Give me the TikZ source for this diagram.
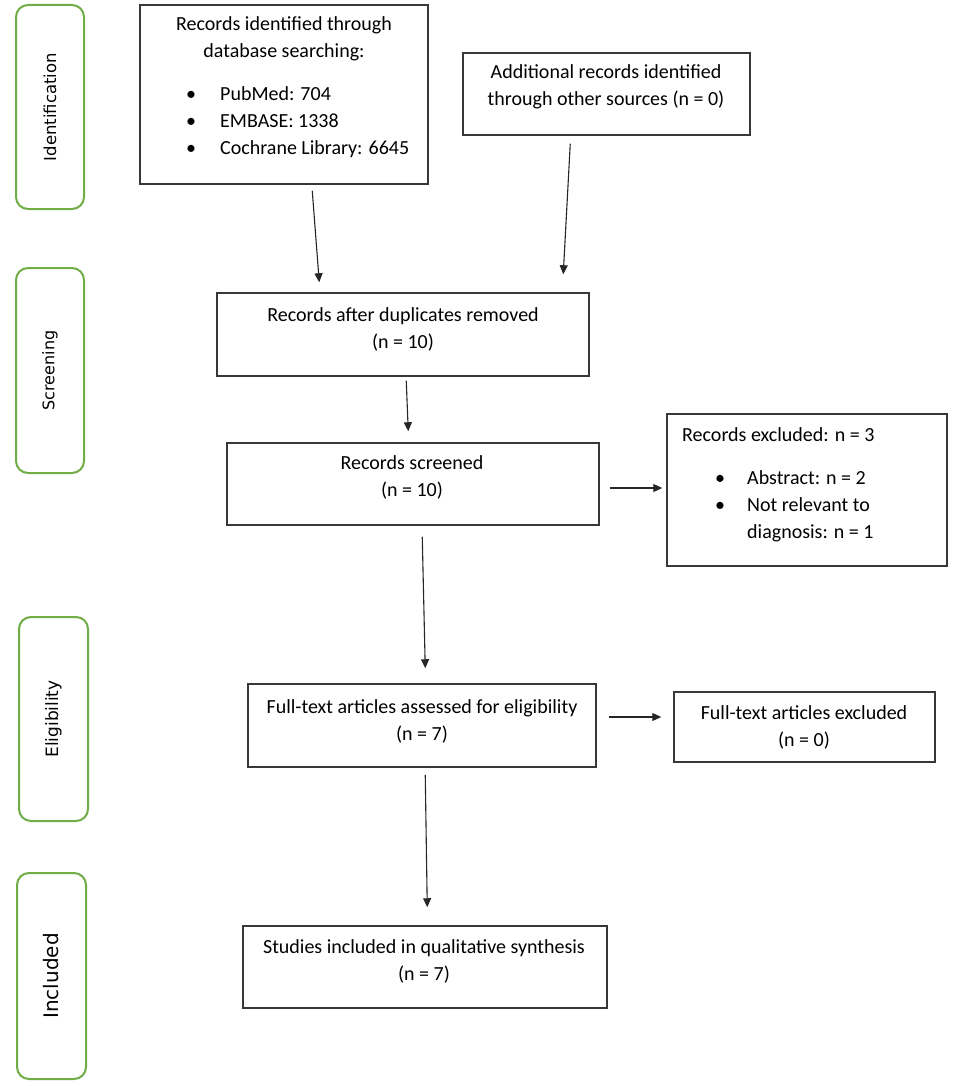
\documentclass[tikz,border=0pt]{standalone}
\usepackage{fontspec}
\setmainfont{Carlito}
\newfontfamily\sidefont{DejaVu Sans}
\usetikzlibrary{arrows.meta,calc}
\definecolor{pgreen}{HTML}{70AD47}
\begin{document}
\begin{tikzpicture}[x=1pt,y=-1pt,
  box/.style={draw=black!78, line width=1.5pt, inner sep=0pt},
  side/.style={draw=pgreen, line width=2pt, rounded corners=12pt, inner sep=0pt, text=black},
  lbl/.style={font=\fontsize{20}{27}\selectfont, align=center, inner sep=0pt},
  arr/.style={-{Triangle[length=9pt,width=8pt]}, line width=1.1pt, draw=black!85}]
\useasboundingbox[fill=white] (0,0) rectangle (957,1086);

% phase boxes
\node[side, minimum width=68, minimum height=204, font=\sidefont\fontsize{16.5}{20}\selectfont] (s1) at (50,107) {\rotatebox{90}{Identification}};
\node[side, minimum width=68, minimum height=205, font=\sidefont\fontsize{16}{20}\selectfont] (s2) at (50,370.5) {\rotatebox{90}{Screening}};
\node[side, minimum width=69, minimum height=204, font=\sidefont\fontsize{17}{20}\selectfont] (s3) at (53.5,719) {\rotatebox{90}{Eligibility}};
\node[side, minimum width=69, minimum height=206, font=\sidefont\fontsize{20}{24}\selectfont] (s4) at (51.5,976) {\rotatebox{90}{Included}};

% boxes
\node[box, minimum width=288, minimum height=179] (b1) at (284,94.5) {};
\node[box, minimum width=287, minimum height=82] (b2) at (606.5,94) {};
\node[box, minimum width=372, minimum height=83] (b3) at (403,334.5) {};
\node[box, minimum width=372, minimum height=82] (b4) at (413,484) {};
\node[box, minimum width=280, minimum height=152] (b5) at (807,490) {};
\node[box, minimum width=348, minimum height=83] (b6) at (422,725.5) {};
\node[box, minimum width=261, minimum height=70] (b7) at (804.5,727) {};
\node[box, minimum width=364, minimum height=82] (b8) at (425,967) {};

% texts (base anchor = baseline of the last line)
\node[lbl, anchor=base] (t1) at (284,58) {Records identified through\\database searching:};
\node[lbl, anchor=base west] (l1) at (191,101) {\begin{tabular}[t]{@{}p{29pt}@{}l@{}}
\makebox[0pt]{\textbullet} & PubMed: 704\\
\makebox[0pt]{\textbullet} & EMBASE: 1338\\
\makebox[0pt]{\textbullet} & Cochrane Library: 6645
\end{tabular}};
\node[lbl, anchor=base] (t2) at (606,106) {Additional records identified\\through other sources (n = 0)};
\node[lbl, anchor=base] (t3) at (403,348) {Records after duplicates removed\\(n = 10)};
\node[lbl, anchor=base] (t4) at (412,496) {Records screened\\(n = 10)};
\node[lbl, anchor=base west] (t5) at (682,441) {Records excluded: n = 3};
\node[lbl, anchor=base west] (l5) at (720,484) {\begin{tabular}[t]{@{}p{27pt}@{}l@{}}
\makebox[0pt]{\textbullet} & Abstract: n = 2\\
\makebox[0pt]{\textbullet} & Not relevant to\\
 & diagnosis: n = 1
\end{tabular}};
\node[lbl, anchor=base] (t6) at (422,740) {Full-text articles assessed for eligibility\\(n = 7)};
\node[lbl, anchor=base] (t7) at (804,746) {Full-text articles excluded\\(n = 0)};
\node[lbl, anchor=base] (t8) at (424,980) {Studies included in qualitative synthesis\\(n = 7)};

% arrows
\draw[arr] ([shift={(173,6)}]b1.south west) -- ([shift={(103,-10)}]b3.north west);
\draw[arr] ([shift={(108,8)}]b2.south west) -- ([shift={(347,-18)}]b3.north west);
\draw[arr] ([shift={(190,4)}]b3.south west) -- ([shift={(182,-11)}]b4.north west);
\draw[arr] ([shift={(10,4)}]b4.east) -- ([shift={(-4,-2)}]b5.west);
\draw[arr] ([shift={(196,11)}]b4.south west) -- ([shift={(178,-15)}]b6.north west);
\draw[arr] ([shift={(12,-8.5)}]b6.east) -- ([shift={(-12,-10)}]b7.west);
\draw[arr] ([shift={(178,7)}]b6.south west) -- ([shift={(185,-18)}]b8.north west);
\end{tikzpicture}
\end{document}
